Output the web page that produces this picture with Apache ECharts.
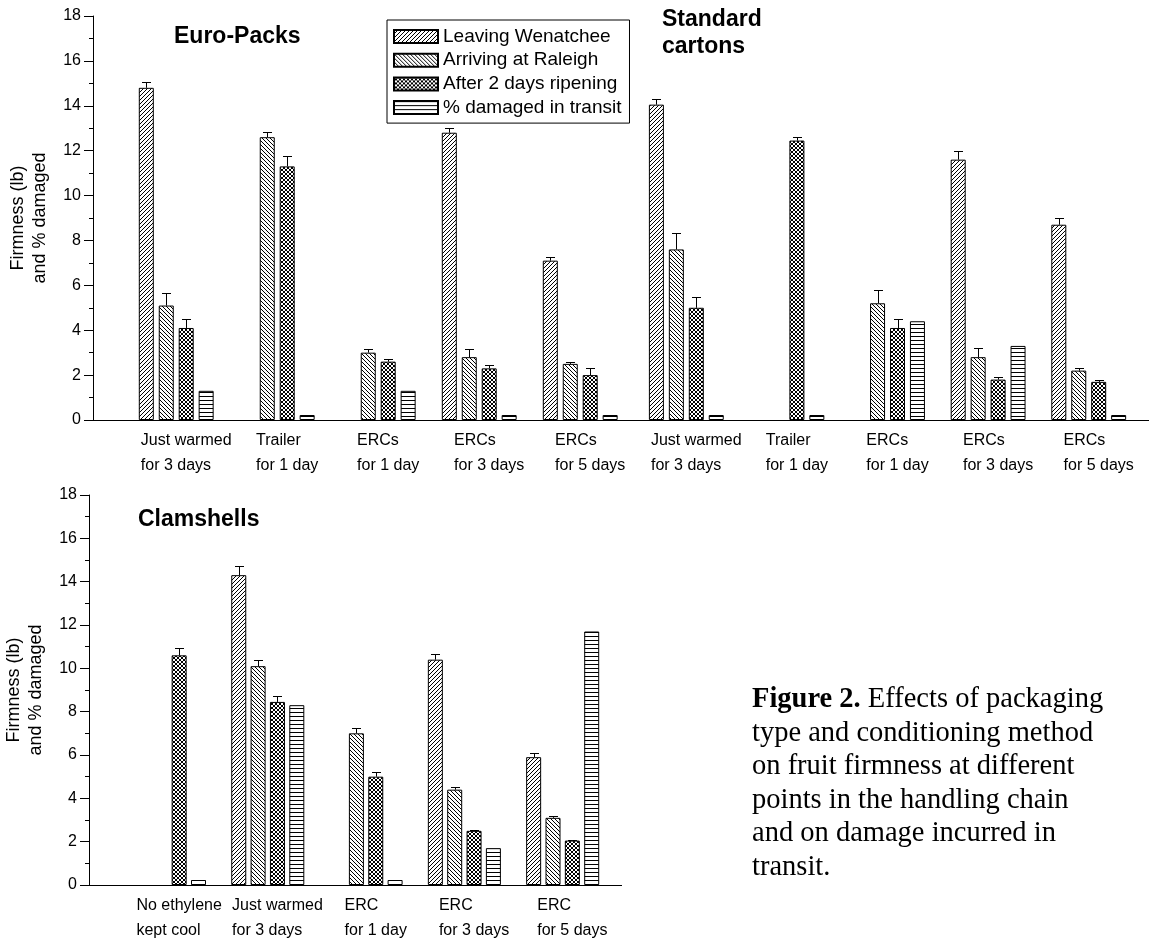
<!DOCTYPE html>
<html>
<head>
<meta charset="utf-8">
<script src="https://cdn.jsdelivr.net/npm/echarts@6/dist/echarts.min.js"></script>
<style>
  html, body { margin: 0; padding: 0; background: #fff; }
  #main { width: 1149px; height: 943px; }
</style>
</head>
<body>
<div id="main"></div>
<script>
// legend / series names
const legendNames = ['Leaving Wenatchee', 'Arriving at Raleigh', 'After 2 days ripening', '% damaged in transit'];

// Euro-Packs
const euroCategories = ['Just warmed\nfor 3 days', 'Trailer\nfor 1 day', 'ERCs\nfor 1 day', 'ERCs\nfor 3 days', 'ERCs\nfor 5 days'];
const euroLeaving = [14.8, null, null, 12.8, 7.1];
const euroArriving = [5.1, 12.6, 3.0, 2.8, 2.5];
const euroRipened = [4.1, 11.3, 2.6, 2.3, 2.0];
const euroDamaged = [1.3, 0, 1.3, 0, 0];
const euroLeavingErr = [0.27, null, null, 0.22, 0.17];
const euroArrivingErr = [0.55, 0.22, 0.15, 0.35, 0.1];
const euroRipenedErr = [0.4, 0.45, 0.1, 0.15, 0.3];

// Standard cartons
const stdCategories = ['Just warmed\nfor 3 days', 'Trailer\nfor 1 day', 'ERCs\nfor 1 day', 'ERCs\nfor 3 days', 'ERCs\nfor 5 days'];
const stdLeaving = [14.05, null, null, 11.6, 8.7];
const stdArriving = [7.6, null, 5.2, 2.8, 2.2];
const stdRipened = [5.0, 12.45, 4.1, 1.8, 1.7];
const stdDamaged = [0, 0, 4.4, 3.3, 0];
const stdLeavingErr = [0.27, null, null, 0.4, 0.3];
const stdArrivingErr = [0.75, null, 0.6, 0.4, 0.1];
const stdRipenedErr = [0.5, 0.15, 0.4, 0.1, 0.1];

// Clamshells
const clamCategories = ['No ethylene\nkept cool', 'Just warmed\nfor 3 days', 'ERC\nfor 1 day', 'ERC\nfor 3 days', 'ERC\nfor 5 days'];
const clamLeaving = [null, 14.3, null, 10.4, 5.9];
const clamArriving = [null, 10.1, 7.0, 4.4, 3.1];
const clamRipened = [10.6, 8.45, 5.0, 2.5, 2.05];
const clamDamaged = [0, 8.3, 0, 1.7, 11.7];
const clamLeavingErr = [null, 0.42, null, 0.26, 0.17];
const clamArrivingErr = [null, 0.27, 0.26, 0.11, 0.09];
const clamRipenedErr = [0.33, 0.29, 0.21, 0.06, 0.03];

const yTicks = [0, 18, 2];  // min, max, step

const FONT = 'Liberation Sans, Arial, sans-serif';
const SERIF = 'Liberation Serif, Times New Roman, serif';

// hatch fills
function hatch(size, draw) {
  const c = document.createElement('canvas');
  c.width = size; c.height = size;
  const ctx = c.getContext('2d');
  ctx.fillStyle = '#fff';
  ctx.fillRect(0, 0, size, size);
  ctx.strokeStyle = '#000';
  ctx.lineWidth = 1;
  ctx.beginPath();
  draw(ctx, size);
  ctx.stroke();
  return { image: c, repeat: 'repeat' };
}
function fwd(ctx, s) {
  ctx.moveTo(-1, s + 1); ctx.lineTo(s + 1, -1);
  ctx.moveTo(-1, 1); ctx.lineTo(1, -1);
  ctx.moveTo(s - 1, s + 1); ctx.lineTo(s + 1, s - 1);
}
function back(ctx, s) {
  ctx.moveTo(-1, -1); ctx.lineTo(s + 1, s + 1);
  ctx.moveTo(s - 1, -1); ctx.lineTo(s + 1, 1);
  ctx.moveTo(-1, s - 1); ctx.lineTo(1, s + 1);
}
const patterns = [
  hatch(4, fwd),
  hatch(4, back),
  hatch(4, function (ctx, s) { fwd(ctx, s); back(ctx, s); }),
  hatch(4, function (ctx, s) { ctx.moveTo(0, 0.5); ctx.lineTo(s, 0.5); })
];

function panel(axisIdx, values, errs, gap, pitch) {
  const out = values.map(function (vals, k) {
    return {
      name: legendNames[k], type: 'bar',
      xAxisIndex: axisIdx, yAxisIndex: axisIdx,
      data: vals, barWidth: 15, barGap: gap,
      barMinHeight: k === 3 ? 5 : 0,
      itemStyle: { color: patterns[k], borderColor: '#000', borderWidth: 1 },
      emphasis: { disabled: true }, silent: true
    };
  });
  // empty fifth slot keeps the four bars to the left of each group
  out.push({ name: 'spacer', type: 'bar', xAxisIndex: axisIdx, yAxisIndex: axisIdx,
    data: [], barWidth: 15, barGap: gap, silent: true });
  const errData = [];
  errs.forEach(function (arr, k) {
    arr.forEach(function (e, i) {
      if (e != null && values[k][i] != null) errData.push([i, k, values[k][i], e]);
    });
  });
  out.push({
    type: 'custom', xAxisIndex: axisIdx, yAxisIndex: axisIdx, z: 5, silent: true,
    data: errData, encode: { x: 0, y: 2 },
    renderItem: function (params, api) {
      const slot = api.value(1), v = api.value(2), e = api.value(3);
      const base = api.coord([api.value(0), v]);
      const top = api.coord([api.value(0), v + e]);
      const x = Math.round(base[0] + (slot - 2) * pitch) + 0.5;
      const yt = Math.round(top[1]) + 0.5;
      return {
        type: 'group',
        children: [
          { type: 'line', shape: { x1: x, y1: base[1], x2: x, y2: yt }, style: { stroke: '#000', lineWidth: 1 } },
          { type: 'line', shape: { x1: x - 4.5, y1: yt, x2: x + 4.5, y2: yt }, style: { stroke: '#000', lineWidth: 1 } }
        ]
      };
    }
  });
  return out;
}

function labelFmt(v) {
  return v.split('\n').map(function (s) { return '{l|' + s + '}'; }).join('\n');
}

function catAxis(gridIdx, cats) {
  return {
    type: 'category', gridIndex: gridIdx, data: cats,
    axisLine: { lineStyle: { color: '#000', width: 1 } },
    axisTick: { length: 8, interval: 0, lineStyle: { color: '#000' } },
    axisLabel: {
      interval: 0, margin: 8, formatter: labelFmt,
      rich: { l: { align: 'left', fontSize: 16, lineHeight: 25, fontFamily: FONT, color: '#000' } }
    },
    splitLine: { show: false }
  };
}
function frameX(gridIdx) {
  return {
    type: 'value', gridIndex: gridIdx, min: 0, max: 1,
    axisLine: { show: true, onZero: false, lineStyle: { color: '#000', width: 1 } },
    axisTick: { show: false }, axisLabel: { show: false }, splitLine: { show: false }
  };
}
function valueY(gridIdx, visible) {
  return {
    type: 'value', gridIndex: gridIdx, show: visible,
    min: yTicks[0], max: yTicks[1], interval: yTicks[2],
    name: 'Firmness (lb)\nand % damaged', nameLocation: 'middle', nameGap: 42,
    nameTextStyle: { fontSize: 18, lineHeight: 22, fontFamily: FONT, color: '#000' },
    axisLine: { show: true, lineStyle: { color: '#000', width: 1 } },
    axisTick: { show: true, length: 9, lineStyle: { color: '#000' } },
    minorTick: { show: true, splitNumber: 2, length: 4, lineStyle: { color: '#000' } },
    axisLabel: { fontSize: 16, fontFamily: FONT, color: '#000', margin: 12 },
    splitLine: { show: false }
  };
}

const chart = echarts.init(document.getElementById('main'), null, { renderer: 'canvas' });
chart.setOption({
  animation: false,
  backgroundColor: '#fff',
  title: [
    { text: 'Euro-Packs', left: 174, top: 25, padding: 0,
      textStyle: { fontSize: 23, fontWeight: 'bold', fontFamily: FONT, color: '#000' } },
    { text: 'Standard\ncartons', left: 662, top: 6, padding: 0,
      textStyle: { fontSize: 23, fontWeight: 'bold', fontFamily: FONT, color: '#000', lineHeight: 27 } },
    { text: 'Clamshells', left: 138, top: 508, padding: 0,
      textStyle: { fontSize: 23, fontWeight: 'bold', fontFamily: FONT, color: '#000' } },
    { text: '{b|Figure 2.} Effects of packaging\ntype and conditioning method\non fruit firmness at different\npoints in the handling chain\nand on damage incurred in\ntransit.',
      left: 752, top: 683, padding: 0,
      textStyle: { fontSize: 28.5, fontWeight: 'normal', fontFamily: SERIF, color: '#000', lineHeight: 33.5,
        rich: { b: { fontSize: 28.5, fontWeight: 'bold', fontFamily: SERIF, color: '#000', lineHeight: 33.5 } } } }
  ],
  legend: {
    data: legendNames, orient: 'vertical', left: 387, top: 20,
    icon: 'rect',
    padding: [6, 8, 5, 6], itemGap: 2.7, itemWidth: 44, itemHeight: 13,
    borderColor: '#000', borderWidth: 1, selectedMode: false,
    textStyle: { fontSize: 19, lineHeight: 21, fontFamily: FONT, color: '#000' }
  },
  grid: [
    { left: 93, top: 16, width: 553, height: 404 },
    { left: 135.7, top: 16, width: 505, height: 404 },
    { left: 646, top: 16, width: 505, height: 404 },
    { left: 89, top: 495, width: 532.5, height: 390 },
    { left: 130, top: 495, width: 491.5, height: 390 }
  ],
  xAxis: [
    frameX(0),
    catAxis(1, euroCategories),
    catAxis(2, stdCategories),
    frameX(3),
    catAxis(4, clamCategories)
  ],
  yAxis: [
    valueY(0, true), valueY(1, false), valueY(2, false),
    valueY(3, true), valueY(4, false)
  ],
  series: [].concat(
    panel(1, [euroLeaving, euroArriving, euroRipened, euroDamaged], [euroLeavingErr, euroArrivingErr, euroRipenedErr], '33%', 19.95),
    panel(2, [stdLeaving, stdArriving, stdRipened, stdDamaged], [stdLeavingErr, stdArrivingErr, stdRipenedErr], '33%', 19.95),
    panel(4, [clamLeaving, clamArriving, clamRipened, clamDamaged], [clamLeavingErr, clamArrivingErr, clamRipenedErr], '29%', 19.35)
  )
});
</script>
</body>
</html>
